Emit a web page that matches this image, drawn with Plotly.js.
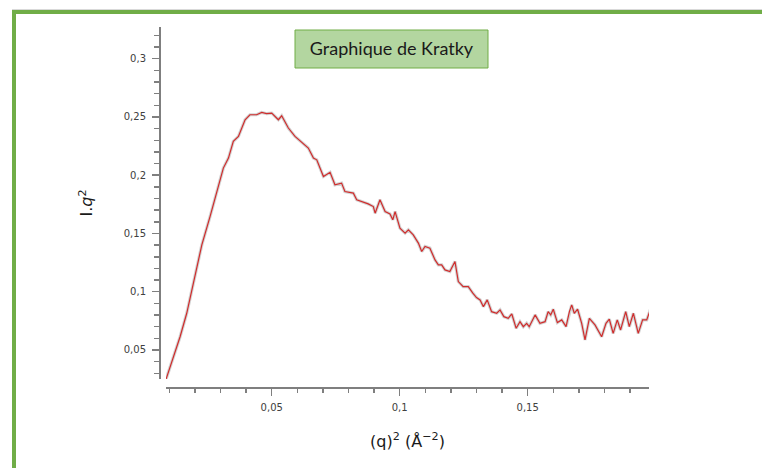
<!DOCTYPE html>
<html>
<head>
<meta charset="utf-8">
<script src="https://cdn.plot.ly/plotly-3.0.1.min.js"></script>
<style>
  html, body { margin: 0; padding: 0; background: #ffffff; }
  #wrap { position: relative; width: 762px; height: 468px; overflow: hidden; }
  #chart { position: absolute; left: 0; top: 0; width: 762px; height: 468px; }
  #frame { position: absolute; left: 12px; top: 10px; width: 760px; height: 470px;
           border-top: 4px solid #70ad47; border-left: 4px solid #70ad47; pointer-events: none; }
  #frameline { position: absolute; left: 12px; top: 9px; width: 760px; height: 1px; background: #d9d9d9; }
</style>
</head>
<body>
<div id="wrap">
  <div id="chart"></div>
  <div id="frameline"></div>
  <div id="frame"></div>
</div>
<script>
// q^2 (Å^-2)
const q2 = [
  0.0087, 0.0116, 0.0142, 0.0168, 0.0200, 0.0227, 0.0259, 0.0285, 0.0311, 0.0331,
  0.0350, 0.0370, 0.0396, 0.0415, 0.0441, 0.0461, 0.0480, 0.0500, 0.0526, 0.0539,
  0.0565, 0.0591, 0.0623, 0.0643, 0.0663, 0.0676, 0.0702, 0.0728, 0.0747, 0.0773,
  0.0786, 0.0819, 0.0832, 0.0852, 0.0877, 0.0897, 0.0904, 0.0923, 0.0943, 0.0962,
  0.0973, 0.0982, 0.1001, 0.1021, 0.1034, 0.1053, 0.1073, 0.1086, 0.1099, 0.1118,
  0.1138, 0.1151, 0.1164, 0.1177, 0.1196, 0.1216, 0.1229, 0.1248, 0.1268, 0.1285,
  0.1300, 0.1314, 0.1327, 0.1342, 0.1359, 0.1379, 0.1392, 0.1407, 0.1424, 0.1438,
  0.1455, 0.1470, 0.1483, 0.1496, 0.1506, 0.1529, 0.1548, 0.1568, 0.1580, 0.1590,
  0.1600, 0.1616, 0.1633, 0.1650, 0.1663, 0.1672, 0.1682, 0.1695, 0.1711, 0.1724,
  0.1741, 0.1763, 0.1789, 0.1806, 0.1819, 0.1834, 0.1850, 0.1863, 0.1883, 0.1897,
  0.1913, 0.1932, 0.1949, 0.1965, 0.1980, 0.1991
];
// I.q^2
const Iq2 = [
  0.0248, 0.0442, 0.0614, 0.0815, 0.1144, 0.1402, 0.1645, 0.1846, 0.2061, 0.2147,
  0.2290, 0.2333, 0.2476, 0.2519, 0.2519, 0.2539, 0.2528, 0.2533, 0.2476, 0.2510,
  0.2405, 0.2333, 0.2276, 0.2233, 0.2147, 0.2132, 0.1989, 0.2025, 0.1918, 0.1932,
  0.1860, 0.1846, 0.1789, 0.1774, 0.1754, 0.1731, 0.1674, 0.1789, 0.1688, 0.1668,
  0.1617, 0.1688, 0.1546, 0.1503, 0.1531, 0.1488, 0.1417, 0.1345, 0.1388, 0.1374,
  0.1273, 0.1230, 0.1230, 0.1187, 0.1173, 0.1259, 0.1087, 0.1044, 0.1044, 0.0990,
  0.0950, 0.0930, 0.0872, 0.0930, 0.0829, 0.0815, 0.0844, 0.0786, 0.0772, 0.0809,
  0.0686, 0.0743, 0.0700, 0.0729, 0.0700, 0.0801, 0.0729, 0.0743, 0.0829, 0.0801,
  0.0850, 0.0735, 0.0758, 0.0700, 0.0829, 0.0887, 0.0815, 0.0850, 0.0729, 0.0586,
  0.0772, 0.0715, 0.0614, 0.0729, 0.0764, 0.0643, 0.0758, 0.0672, 0.0829, 0.0700,
  0.0815, 0.0643, 0.0758, 0.0758, 0.0850, 0.0786
];
const yTickVals = [0.05, 0.1, 0.15, 0.2, 0.25, 0.3];
const yTickText = ['0,05', '0,1', '0,15', '0,2', '0,25', '0,3'];
const xTickVals = [0.05, 0.1, 0.15];
const xTickText = ['0,05', '0,1', '0,15'];

const traces = [
  { x: q2, y: Iq2, type: 'scatter', mode: 'lines', hoverinfo: 'skip', showlegend: false,
    line: { color: 'rgba(110,110,110,0.3)', width: 3.2 } },
  { x: q2, y: Iq2, type: 'scatter', mode: 'lines', showlegend: false,
    line: { color: '#d02c2c', width: 1.2 } }
];

const axisColor = '#7f7f7f';
const tickFont = { family: 'DejaVu Sans, Verdana, sans-serif', size: 10, color: '#404040' };

const layout = {
  width: 762, height: 468,
  paper_bgcolor: 'rgba(0,0,0,0)', plot_bgcolor: '#ffffff',
  margin: { l: 159, r: 113, t: 27, b: 81, pad: 0 },
  separators: ', ',
  showlegend: false,
  title: {
    text: 'Graphique de Kratky',
    font: { family: 'Lato, Open Sans, sans-serif', size: 18, color: '#1a1a1a' },
    x: 391.5 / 762, xref: 'container', xanchor: 'center',
    y: 1 - 49 / 468, yref: 'container', yanchor: 'middle'
  },
  shapes: [{
    type: 'rect', xref: 'paper', yref: 'paper', layer: 'below',
    x0: (295 - 159) / 490, x1: (488 - 159) / 490,
    y0: (387 - 68) / 360, y1: (387 - 30) / 360,
    fillcolor: '#b3d6a0', line: { color: '#70ad47', width: 1 }
  }],
  xaxis: {
    domain: [7 / 490, 1], anchor: 'free', position: 0,
    range: [0.0087, 0.1974],
    showgrid: false, zeroline: false,
    showline: true, linecolor: axisColor, linewidth: 1.5,
    ticks: 'outside', ticklen: 7, tickwidth: 1.5, tickcolor: axisColor,
    ticklabelstandoff: 3,
    tickvals: xTickVals, ticktext: xTickText, tickfont: tickFont,
    minor: { dtick: 0.01, tick0: 0, ticks: 'outside', ticklen: 4, tickwidth: 1.5, tickcolor: axisColor, showgrid: false },
    title: { text: '(q)<sup>2</sup> (Å<sup>−2</sup>)', font: { family: 'DejaVu Sans, Verdana, sans-serif', size: 16, color: '#1a1a1a' }, standoff: 24 }
  },
  yaxis: {
    domain: [8 / 360, 1], anchor: 'free', position: 0,
    range: [0.0251, 0.3272],
    showgrid: false, zeroline: false,
    showline: true, linecolor: axisColor, linewidth: 1.5,
    ticks: 'outside', ticklen: 7, tickwidth: 1.5, tickcolor: axisColor,
    ticklabelstandoff: 4,
    tickvals: yTickVals, ticktext: yTickText, tickfont: tickFont,
    minor: { dtick: 0.01, tick0: 0, ticks: 'outside', ticklen: 5, tickwidth: 1.5, tickcolor: axisColor, showgrid: false },
    title: { text: 'I.<i>q</i><sup>2</sup>', font: { family: 'DejaVu Sans, Verdana, sans-serif', size: 16, color: '#1a1a1a' }, standoff: 25 }
  }
};

Plotly.newPlot('chart', traces, layout, { staticPlot: true, displayModeBar: false });
</script>
</body>
</html>
